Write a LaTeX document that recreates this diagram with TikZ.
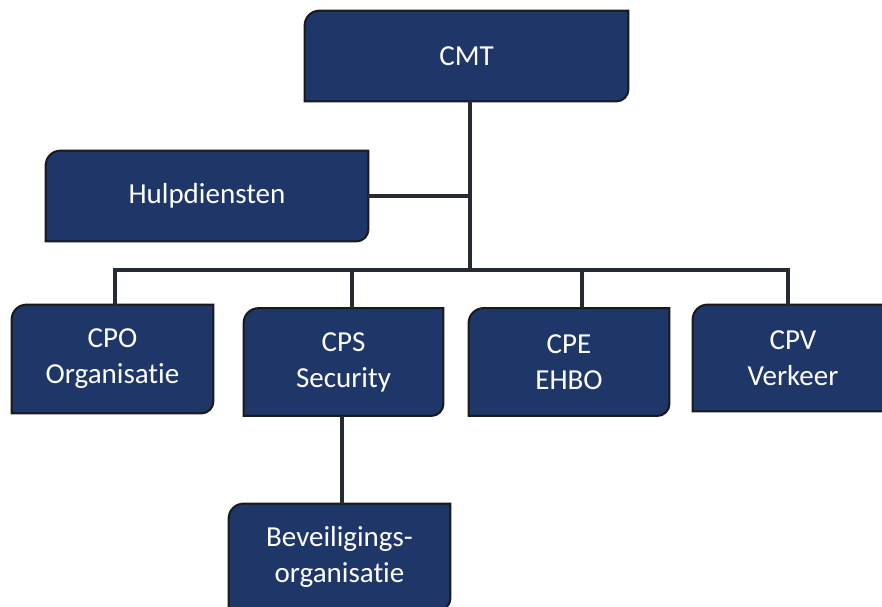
\documentclass[tikz,border=0pt]{standalone}
\usepackage{fontspec}
\setmainfont{Carlito}[Ligatures=NoCommon, RawFeature={-liga;-clig;-calt}]
\usetikzlibrary{backgrounds}
\definecolor{cmtblue}{RGB}{30,55,104}
\definecolor{cmtline}{RGB}{38,42,50}
\tikzset{
		orgbox/.style={inner sep=0pt, text=white, align=center, font=\fontsize{14.5}{18}\selectfont},
		orgshape/.style={fill=cmtblue, draw=black!90, line width=1pt},
		orglink/.style={draw=cmtline, line width=2pt}
	}

\begin{document}
\begin{tikzpicture}[x=0.5pt, y=-0.5pt]
		\useasboundingbox (0,0) rectangle (882,606);
		% boxes
		\node[orgbox, minimum width=161.5pt, minimum height=45pt] (cmt) at (466.5,56) {CMT};
		\node[orgbox, minimum width=161pt, minimum height=45pt] (hulp) at (207,196) {Hulpdiensten};
		\node[orgbox, minimum width=100.5pt, minimum height=54pt] (cpo) at (112.5,359) {CPO\\Organisatie};
		\node[orgbox, minimum width=99.5pt, minimum height=53.5pt] (cps) at (343.5,362) {CPS\\Security};
		\node[orgbox, minimum width=100pt, minimum height=53.5pt] (cpe) at (569,362) {CPE\\EHBO};
		\node[orgbox, minimum width=100pt, minimum height=53pt] (cpv) at (793,358) {CPV\\Verkeer};
		\node[orgbox, minimum width=110.5pt, minimum height=53pt] (bev) at (339.5,557) {Beveiligings-\\organisatie};
		% branch points
		\coordinate (top) at (470,270);
		\coordinate (dpo) at (115,270); \coordinate (dps) at (352,270);
		\coordinate (dpe) at (582,270); \coordinate (dpv) at (788,270);
		\coordinate (dbev) at (342,460);
		\begin{scope}[on background layer]
			\foreach \n in {cmt,hulp,cpo,cps,cpe,cpv,bev}
				\path[orgshape] ([yshift=-7.5pt]\n.north west) arc[start angle=180, end angle=90, radius=7.5pt]
					-- (\n.north east) -- ([yshift=6pt]\n.south east) arc[start angle=0, end angle=-90, radius=6pt]
					-- (\n.south west) -- cycle;
			\draw[orglink] (cmt.south -| top) -- (top);
			\draw[orglink] (hulp.east) -- (hulp.east -| top);
			\draw[orglink] (cpo.north -| dpo) -- (dpo) -- (dpv) -- (cpv.north -| dpv);
			\draw[orglink] (dps) -- (cps.north -| dps);
			\draw[orglink] (dpe) -- (cpe.north -| dpe);
			\draw[orglink] (cps.south -| dbev) -- (bev.north -| dbev);
		\end{scope}
	\end{tikzpicture}
\end{document}
